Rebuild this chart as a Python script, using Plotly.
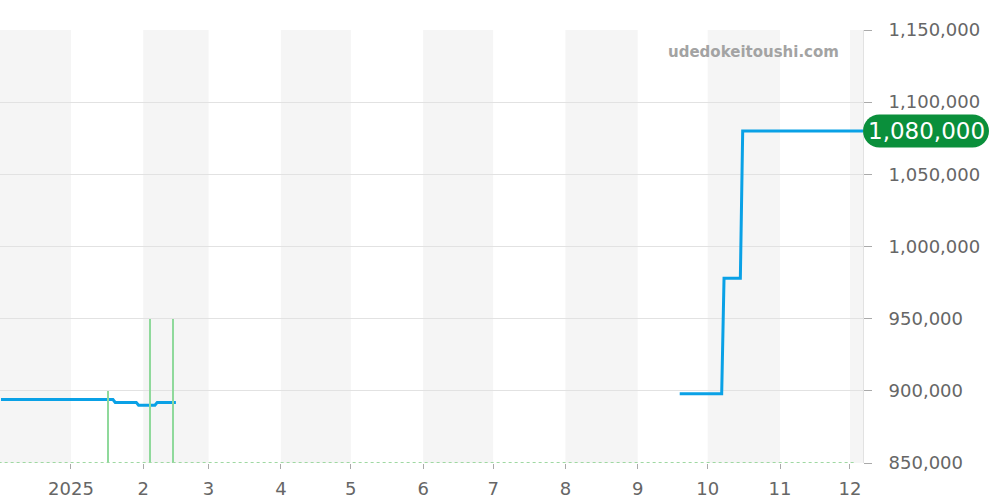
import plotly.graph_objects as go

# Price series (None = gap)
price_dates = [
    "2024-12-02", "2025-01-19", "2025-01-20", "2025-01-29", "2025-01-30",
    "2025-02-06", "2025-02-07", "2025-02-15", None,
    "2025-09-19", "2025-10-07", "2025-10-08", "2025-10-15", "2025-10-16", "2025-12-08",
]
price_values = [
    894000, 894000, 892000, 892000, 890000,
    890000, 892000, 892000, None,
    898000, 898000, 978000, 978000, 1080000, 1080000,
]

# Volume bars
volume_dates = ["2025-01-17", "2025-02-04", "2025-02-14"]
volume_values = [1, 2, 2]

# Axis ticks
x_tick_dates = ["2025-01-01", "2025-02-01", "2025-03-01", "2025-04-01", "2025-05-01",
                "2025-06-01", "2025-07-01", "2025-08-01", "2025-09-01", "2025-10-01",
                "2025-11-01", "2025-12-01"]
x_tick_labels = ["2025", "2", "3", "4", "5", "6", "7", "8", "9", "10", "11", "12"]
y_ticks = [850000, 900000, 950000, 1000000, 1050000, 1100000, 1150000]
y_tick_labels = ["850,000", "900,000", "950,000", "1,000,000", "1,050,000", "1,100,000", "1,150,000"]

# Alternating month bands (shaded months)
band_starts = ["2024-11-01", "2025-02-01", "2025-04-01", "2025-06-01", "2025-08-01", "2025-10-01", "2025-12-01"]
band_ends = ["2025-01-01", "2025-03-01", "2025-05-01", "2025-07-01", "2025-09-01", "2025-11-01", "2026-01-01"]

last_price = 1080000
last_label = "1,080,000"
watermark = "udedokeitoushi.com"

FONT = "DejaVu Sans"

fig = go.Figure()

fig.add_trace(go.Bar(
    x=volume_dates, y=volume_values, yaxis="y2",
    width=0.6 * 86400000, marker=dict(color="#8fd99b", line=dict(width=0)),
    hoverinfo="skip", showlegend=False,
))

fig.add_trace(go.Scatter(
    x=price_dates, y=price_values, mode="lines",
    line=dict(color="#0aa1e6", width=3), connectgaps=False, showlegend=False,
))

shapes = []
for s, e in zip(band_starts, band_ends):
    shapes.append(dict(type="rect", xref="x", yref="paper", x0=s, x1=e, y0=0, y1=1,
                       fillcolor="#f5f5f5", line=dict(width=0), layer="below"))

# green dotted baseline
shapes.append(dict(type="line", xref="x", yref="y", x0="2024-12-01", x1="2025-12-03",
                   y0=850000, y1=850000, line=dict(color="#9fd8a2", width=2, dash="dot")))

# pill badge
r = 16.5
k = r * 0.552
L, R = 0, 126
path = (f"M {L + r},{-r} L {R - r},{-r} "
        f"C {R - r + k},{-r} {R},{-k} {R},0 "
        f"C {R},{k} {R - r + k},{r} {R - r},{r} "
        f"L {L + r},{r} "
        f"C {L + r - k},{r} {L},{k} {L},0 "
        f"C {L},{-k} {L + r - k},{-r} {L + r},{-r} Z")
shapes.append(dict(type="path", xref="paper", yref="y", xsizemode="pixel", ysizemode="pixel",
                   xanchor=1.0, yanchor=last_price, path=path,
                   fillcolor="#0a8f3b", line=dict(width=0), layer="above"))

annotations = [
    dict(xref="paper", yref="y", x=1.0, y=last_price, xanchor="center", yanchor="middle",
         xshift=63, text=last_label, showarrow=False,
         font=dict(family=FONT, size=23, color="white")),
    dict(xref="paper", yref="paper", x=841 / 863, y=(463 - 52) / 433, xanchor="right", yanchor="middle",
         text=f"<b>{watermark}</b>", showarrow=False,
         font=dict(family=FONT, size=15, color="#a3a3a3")),
]

fig.update_layout(
    width=1000, height=500,
    margin=dict(l=0, r=137, t=30, b=37, autoexpand=False),
    paper_bgcolor="white", plot_bgcolor="white",
    font=dict(family=FONT, size=18, color="#666666"),
    shapes=shapes, annotations=annotations,
    bargap=0,
    xaxis=dict(
        type="date", range=["2024-12-01 14:00", "2025-12-06 14:00"],
        tickvals=x_tick_dates, ticktext=x_tick_labels,
        ticks="outside", ticklen=5, tickcolor="#aaaaaa",
        ticklabelstandoff=4,
        showgrid=False, zeroline=False, showline=False,
        tickfont=dict(family=FONT, size=18, color="#666666"),
    ),
    yaxis=dict(
        side="right", range=[850000, 1150000],
        tickvals=y_ticks, ticktext=y_tick_labels,
        ticks="outside", ticklen=8, tickcolor="#aaaaaa",
        ticklabelstandoff=13,
        showgrid=True, gridcolor="#e2e2e2", gridwidth=1,
        zeroline=False, showline=True, linecolor="#e2e2e2", linewidth=1,
        tickfont=dict(family=FONT, size=18, color="#666666"),
    ),
    yaxis2=dict(overlaying="y", range=[0, 6], visible=False, showgrid=False),
)

fig.write_html("out.html", config={"displayModeBar": False},
               post_script="document.body.style.margin='0';document.body.style.padding='0';")
